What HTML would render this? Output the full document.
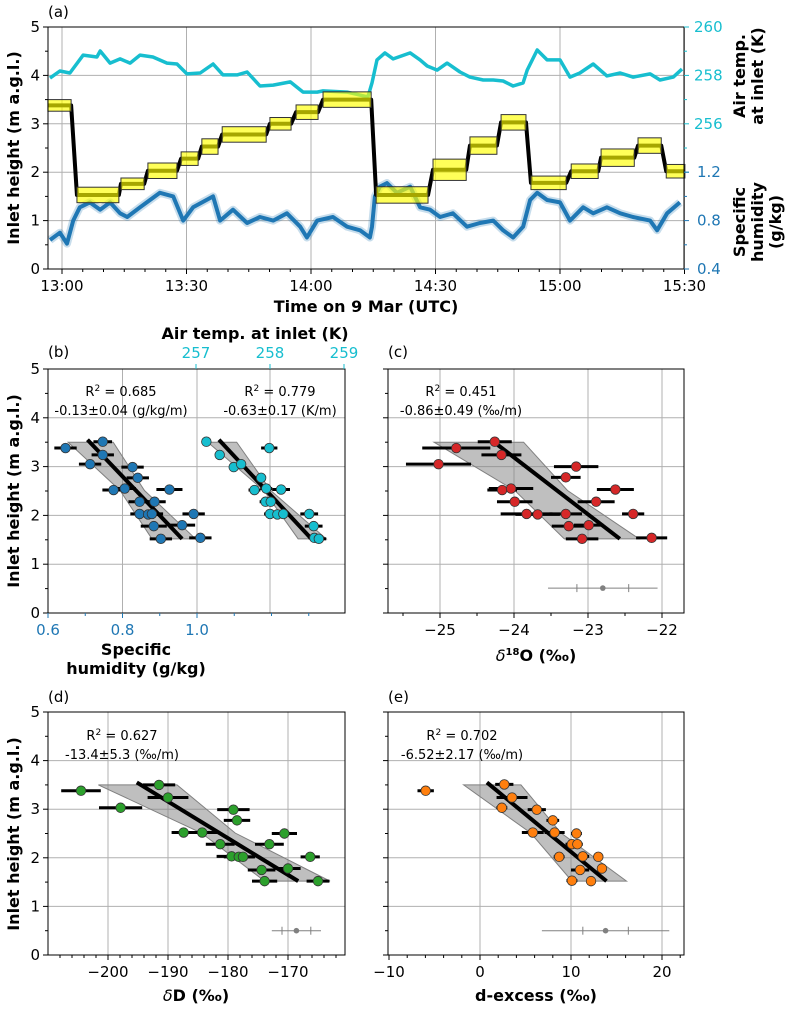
<!DOCTYPE html>
<html><head><meta charset="utf-8"><style>
body{margin:0;background:#fff}
svg{display:block;font-family:"DejaVu Sans","Liberation Sans",sans-serif}
.tk{font-size:15px}
.lb{font-size:16px;font-weight:bold}
.an{font-size:13px}
</style></head><body>
<svg id="fig" width="789" height="1009" viewBox="0 0 789 1009"></svg>
<script>
// ---------- Panel (a) data ----------
const tempTimes=[-2.9,-0.5,1.9,5.1,8.4,9.2,11.6,14.0,16.4,18.8,21.9,25.3,27.7,30.1,33.3,36.4,38.8,42.2,44.6,47.7,50.9,55.0,58.1,61.5,62.9,68.7,73.7,74.7,75.9,77.8,79.8,83.9,86.3,88.0,90.4,92.8,95.9,98.3,101.5,103.9,106.3,108.7,111.1,112.1,114.5,116.9,120.0,122.4,124.8,128.0,131.3,134.5,137.6,141.7,144.1,147.3,149.4];
const tempVals=[257.89,258.18,258.10,258.84,258.76,259.01,258.51,258.68,258.51,258.84,258.76,258.51,258.47,258.06,258.10,258.47,258.02,258.02,258.14,257.56,257.60,257.73,257.31,257.31,257.36,257.31,257.11,257.69,258.64,258.93,258.68,258.93,258.64,258.39,258.22,258.51,258.14,257.93,257.81,257.81,257.77,257.56,257.69,258.22,259.05,258.64,258.64,257.93,258.10,258.47,257.98,258.10,257.93,258.06,257.81,257.93,258.26];
const humTimes=[-2.9,-0.5,1.2,2.7,4.3,6.7,9.2,11.6,14.0,15.7,18.8,21.2,23.6,26.8,29.2,31.6,36.4,38.1,41.2,44.6,47.7,50.9,54.2,57.4,59.0,61.5,65.3,68.7,71.8,74.2,74.7,75.4,76.6,78.3,80.7,83.9,86.3,88.7,91.1,94.2,97.6,100.7,103.9,106.3,108.7,111.1,112.8,114.5,116.9,120.0,122.4,125.6,128.0,131.3,134.5,137.6,141.7,143.4,145.8,148.9];
const humVals=[0.64,0.70,0.61,0.80,0.91,0.95,0.89,0.95,0.86,0.83,0.91,0.97,1.03,1.00,0.80,0.91,1.00,0.80,0.89,0.78,0.83,0.80,0.86,0.75,0.66,0.80,0.83,0.75,0.72,0.66,0.75,1.00,1.08,1.11,1.03,1.08,0.91,0.89,0.83,0.86,0.75,0.78,0.80,0.72,0.66,0.75,0.97,1.03,0.97,0.95,0.80,0.91,0.86,0.91,0.86,0.83,0.80,0.72,0.86,0.95];
const boxStart=[-3.4,3.6,14.2,20.7,28.7,33.7,38.6,50.1,56.4,62.9,75.7,89.4,98.3,105.8,113.0,122.7,129.9,138.8,145.6];
const boxEnd=[2.2,13.7,19.8,27.7,32.8,37.6,49.2,55.2,61.7,74.5,88.2,97.4,104.8,111.8,121.5,129.2,137.9,144.4,150.1];
const boxHeight=[3.38,1.53,1.76,2.03,2.28,2.53,2.78,3.0,3.24,3.5,1.53,2.05,2.55,3.03,1.78,2.02,2.3,2.55,2.02];
const boxHalf=[0.12,0.16,0.12,0.16,0.14,0.16,0.16,0.13,0.15,0.16,0.17,0.22,0.18,0.16,0.14,0.15,0.18,0.16,0.14];
const timeTicks=[0,30,60,90,120,150];
const timeLabels=["13:00","13:30","14:00","14:30","15:00","15:30"];

// ---------- Scatter panel data ----------
const bHeights=[3.38,3.51,3.24,3.05,2.99,2.77,2.52,2.55,2.53,2.28,2.28,2.03,2.02,2.03,2.03,1.78,1.80,1.52,1.54];
const bHum=[0.647,0.747,0.747,0.713,0.827,0.841,0.776,0.806,0.926,0.846,0.886,0.846,0.869,0.879,0.991,0.884,0.960,0.903,1.009];
const bHumErr=[0.03,0.025,0.03,0.03,0.03,0.03,0.03,0.03,0.035,0.03,0.03,0.025,0.03,0.03,0.03,0.035,0.035,0.03,0.03];
const bTHeights=[3.51,3.24,2.99,3.05,3.38,2.77,2.52,2.55,2.53,2.28,2.28,2.03,2.02,2.03,2.03,1.78,1.54,1.52];
const bTemp=[257.14,257.32,257.51,257.61,257.99,257.88,257.79,257.95,258.15,257.94,258.01,258.0,258.1,258.18,258.53,258.59,258.6,258.66];
const bTempErr=[0.06,0.06,0.06,0.06,0.11,0.06,0.08,0.08,0.12,0.08,0.06,0.08,0.08,0.08,0.12,0.12,0.08,0.1];
const cHeights=[3.05,3.38,3.51,3.24,3.0,2.78,2.52,2.55,2.53,2.28,2.28,2.03,2.02,2.03,2.03,1.78,1.80,1.52,1.54];
const cVals=[-25.02,-24.78,-24.26,-24.17,-23.16,-23.3,-24.16,-24.04,-22.63,-23.99,-22.89,-23.83,-23.68,-23.3,-22.39,-23.26,-22.99,-23.08,-22.14];
const cErr=[0.44,0.46,0.23,0.27,0.3,0.2,0.2,0.3,0.25,0.24,0.25,0.35,0.3,0.22,0.15,0.23,0.2,0.22,0.21];
const dHeights=[3.38,3.5,3.24,3.03,2.99,2.77,2.52,2.52,2.5,2.28,2.28,2.03,2.02,2.02,2.02,1.75,1.78,1.52,1.52];
const dVals=[-204.5,-191.5,-190,-197.9,-179.1,-178.5,-187.4,-184.3,-170.6,-181.3,-173.1,-179.4,-178.2,-177.5,-166.3,-174.4,-170,-173.9,-165];
const dErr=[3.3,2.7,3.4,3.6,2.7,2.2,2,2.5,2.1,2.4,2.4,2.5,2.5,2,1.6,2.3,2.1,2.1,1.9];
const eHeights=[3.38,3.51,3.24,3.03,2.99,2.77,2.52,2.52,2.5,2.28,2.28,2.02,2.03,2.02,1.75,1.78,1.53,1.52];
const eVals=[-5.97,2.67,3.52,2.4,6.24,8.0,5.8,8.2,10.6,10.1,10.7,8.7,11.3,13.0,11.0,13.4,10.1,12.2];
const eErr=[0.9,1.0,1.7,0.6,1.0,0.7,1.2,1.1,0.6,0.7,0.6,0.6,0.7,0.5,1.0,0.5,0.6,0.5];
const bHumFit=[0.706,0.96], bHumBandTop=[0.654,0.775], bHumBandBot=[0.879,0.996];
const bTFit=[257.31,258.56], bTBandTop=[257.16,257.55], bTBandBot=[258.38,258.76];
const cFit=[-24.31,-22.57], cBandTop=[-25.08,-23.87], cBandBot=[-23.32,-22.31];
const dFit=[-195.2,-168.3], dBandTop=[-201.6,-188.5], dBandBot=[-173.9,-163.0];
const eFit=[0.76,13.9], eBandTop=[-1.8,4.5], eBandBot=[10.1,16.1];
const cRef=[-22.8,0.35,0.74], dRef=[-168.6,2.4,4.1], eRef=[13.8,2.5,7.0];

const NS="http://www.w3.org/2000/svg";
const svg=document.getElementById('fig');
function mk(tag,attrs,parent,text){const e=document.createElementNS(NS,tag);for(const k in attrs)e.setAttribute(k,attrs[k]);if(text!==undefined)e.textContent=text;(parent||svg).appendChild(e);return e;}
const BLUE="#1f77b4",CYAN="#17becf",GRID="#b0b0b0";

// ---------- Panel (a) ----------
const aX=t=>62+t*124.5/30, aYL=h=>269-h*48.4, aYT=T=>27+(260-T)*24.2, aYQ=q=>269-(q-0.4)*121;
const ga=mk('g',{});


timeTicks.forEach(t=>mk('line',{x1:aX(t),x2:aX(t),y1:27,y2:269,stroke:GRID,'stroke-width':1},ga));
[1,2,3,4].forEach(h=>mk('line',{x1:48,x2:684,y1:aYL(h),y2:aYL(h),stroke:GRID,'stroke-width':1},ga));
function poly(xs,ys,fx,fy){return xs.map((x,i)=>fx(x).toFixed(1)+','+fy(ys[i]).toFixed(1)).join(' ');}
const tl=mk('polyline',{points:poly(tempTimes,tempVals,aX,aYT),fill:'none',stroke:CYAN,'stroke-width':3.5,'stroke-linejoin':'round'},ga);


mk('polyline',{points:poly(humTimes,humVals,aX,aYQ),fill:'none',stroke:BLUE,'stroke-opacity':0.25,'stroke-width':8,'stroke-linejoin':'round'},ga);
const hl=mk('polyline',{points:poly(humTimes,humVals,aX,aYQ),fill:'none',stroke:BLUE,'stroke-width':4,'stroke-linejoin':'round'},ga);


let hp=[];
boxStart.forEach((s,i)=>{hp.push(aX(s)+','+aYL(boxHeight[i]));hp.push(aX(boxEnd[i])+','+aYL(boxHeight[i]));});
const il=mk('polyline',{points:hp.join(' '),fill:'none',stroke:'#000','stroke-width':4,'stroke-linejoin':'round'},ga);


boxStart.forEach((s,i)=>{
  const r=mk('rect',{x:aX(s),y:aYL(boxHeight[i]+boxHalf[i]),width:aX(boxEnd[i])-aX(s),height:aYL(boxHeight[i]-boxHalf[i])-aYL(boxHeight[i]+boxHalf[i]),fill:'#ffff00','fill-opacity':0.65,stroke:'#333','stroke-width':1},ga);
  
  
});
mk('rect',{x:48,y:27,width:636,height:242,fill:'none',stroke:'#000','stroke-width':1},ga);
for(let t=0;t<=150;t+=5){mk('line',{x1:aX(t),x2:aX(t),y1:269,y2:t%30==0?274:272,stroke:'#000'},ga);}
timeTicks.forEach((t,i)=>{const e=mk('text',{x:aX(t),y:291,'text-anchor':'middle',class:'tk'},ga,timeLabels[i]);});
for(let h=0;h<=5;h+=0.5){mk('line',{x1:48,x2:h%1==0?43:45,y1:aYL(h),y2:aYL(h),stroke:'#000'},ga);}
for(let h=0;h<=5;h++)mk('text',{x:40,y:aYL(h)+5,'text-anchor':'end',class:'tk'},ga,String(h));
for(let T=254;T<=260;T+=1){mk('line',{x1:684,x2:T%2==0?689:687,y1:aYT(T),y2:aYT(T),stroke:CYAN},ga);}
[260,258,256].forEach(T=>mk('text',{x:694,y:aYT(T)+5,fill:CYAN,class:'tk'},ga,String(T)));
for(let q=0.4;q<=1.25;q+=0.2){mk('line',{x1:684,x2:Math.round(q*10)%4==0?689:687,y1:aYQ(q),y2:aYQ(q),stroke:BLUE},ga);}
[1.2,0.8,0.4].forEach(q=>mk('text',{x:697,y:aYQ(q)+5,fill:BLUE,class:'tk'},ga,q.toFixed(1)));
mk('text',{x:366,y:312,'text-anchor':'middle',class:'lb'},ga,'Time on 9 Mar (UTC)');
mk('text',{x:48,y:17,class:'tk'},ga,'(a)');
mk('text',{transform:'translate(19,148) rotate(-90)','text-anchor':'middle',class:'lb'},ga,'Inlet height (m a.g.l.)');
mk('text',{transform:'translate(745,76) rotate(-90)','text-anchor':'middle',class:'lb'},ga,'Air temp.');
mk('text',{transform:'translate(763,76) rotate(-90)','text-anchor':'middle',class:'lb'},ga,'at inlet (K)');
mk('text',{transform:'translate(745,222) rotate(-90)','text-anchor':'middle',class:'lb'},ga,'Specific');
mk('text',{transform:'translate(763,222) rotate(-90)','text-anchor':'middle',class:'lb'},ga,'humidity');
mk('text',{transform:'translate(781,222) rotate(-90)','text-anchor':'middle',class:'lb'},ga,'(g/kg)');

function frame(g,x0,x1,y0,y1,Y,gridXs,showYLabels){
  gridXs.forEach(x=>mk('line',{x1:x,x2:x,y1:y0,y2:y1,stroke:GRID},g));
  [1,2,3,4].forEach(h=>mk('line',{x1:x0,x2:x1,y1:Y(h),y2:Y(h),stroke:GRID},g));
  for(let h=0;h<=5;h+=0.5)mk('line',{x1:x0,x2:h%1==0?x0-5:x0-3,y1:Y(h),y2:Y(h),stroke:'#000'},g);
  if(showYLabels)for(let h=0;h<=5;h++)mk('text',{x:x0-8,y:Y(h)+5,'text-anchor':'end',class:'tk'},g,String(h));
}
function series(g,X,Y,vals,hs,errs,color,name,fit,bt,bb){
  const pts=[[X(bt[0]),Y(3.5)],[X(bt[1]),Y(3.5)],[X((bt[1]+bb[1])/2-(bb[1]-bt[1])*0.12),Y(2.51)],[X(bb[1]),Y(1.52)],[X(bb[0]),Y(1.52)],[X((bt[0]+bb[0])/2+(bb[0]-bt[0])*0.12),Y(2.51)]];
  const band=mk('polygon',{points:pts.map(p=>p.join(',')).join(' '),fill:'#808080','fill-opacity':0.5,stroke:'#808080'},g);
  
  
  vals.forEach((v,i)=>{const e=mk('line',{x1:X(v-errs[i]),x2:X(v+errs[i]),y1:Y(hs[i]),y2:Y(hs[i]),stroke:'#000','stroke-width':3},g);
    
    });
  const f=mk('line',{x1:X(fit[0]),y1:Y(3.55),x2:X(fit[1]),y2:Y(1.52),stroke:'#000','stroke-width':4},g);
  
  
  vals.forEach((v,i)=>{const c=mk('circle',{cx:X(v),cy:Y(hs[i]),r:4.8,fill:color,stroke:'#333','stroke-width':0.8},g);
    
    });
}
function refbar(g,X,y,r){
  mk('line',{x1:X(r[0]-r[2]),x2:X(r[0]+r[2]),y1:y,y2:y,stroke:'#808080'},g);
  [-r[1],r[1]].forEach(d=>mk('line',{x1:X(r[0]+d),x2:X(r[0]+d),y1:y-4,y2:y+4,stroke:'#808080'},g));
  mk('circle',{cx:X(r[0]),cy:y,r:2.8,fill:'#808080'},g);
}
function annot(g,cx,y,r2,slope){
  const t=mk('text',{x:cx,y:y,'text-anchor':'middle',class:'an'},g);
  mk('tspan',{},t,'R');mk('tspan',{dy:-5,'font-size':9},t,'2');mk('tspan',{dy:5},t,' = '+r2);
  mk('text',{x:cx,y:y+19,'text-anchor':'middle',class:'an'},g,slope);
}

// ---------- Panel (b) ----------
const bY=h=>613-h*48.8, bXq=q=>48+(q-0.6)*372.5, bXT=T=>196+(T-257)*74;
const gb=mk('g',{});


frame(gb,48,345,369,613,bY,[bXq(0.8),bXq(1.0),bXT(258)],true);
series(gb,bXq,bY,bHum,bHeights,bHumErr,BLUE,'humidity',bHumFit,bHumBandTop,bHumBandBot);
series(gb,bXT,bY,bTemp,bTHeights,bTempErr,CYAN,'temperature',bTFit,bTBandTop,bTBandBot);
mk('rect',{x:48,y:369,width:297,height:244,fill:'none',stroke:'#000'},gb);
[0.6,0.8,1.0].forEach(q=>{mk('line',{x1:bXq(q),x2:bXq(q),y1:613,y2:618,stroke:BLUE},gb);mk('text',{x:bXq(q),y:635,'text-anchor':'middle',fill:BLUE,class:'tk'},gb,q.toFixed(1));});
[0.7,0.9,1.1,1.2,1.3].forEach(q=>mk('line',{x1:bXq(q),x2:bXq(q),y1:613,y2:616,stroke:BLUE},gb));
[257,258,259].forEach(T=>{mk('line',{x1:bXT(T),x2:bXT(T),y1:369,y2:364,stroke:CYAN},gb);mk('text',{x:bXT(T),y:358,'text-anchor':'middle',fill:CYAN,class:'tk'},gb,String(T));});
mk('text',{x:255,y:339,'text-anchor':'middle',class:'lb'},gb,'Air temp. at inlet (K)');
mk('text',{x:136,y:655,'text-anchor':'middle',class:'lb'},gb,'Specific');
mk('text',{x:136,y:674,'text-anchor':'middle',class:'lb'},gb,'humidity (g/kg)');
mk('text',{x:48,y:357,class:'tk'},gb,'(b)');
annot(gb,121,396,'0.685','-0.13±0.04 (g/kg/m)');
annot(gb,280,396,'0.779','-0.63±0.17 (K/m)');
mk('text',{transform:'translate(19,491) rotate(-90)','text-anchor':'middle',class:'lb'},gb,'Inlet height (m a.g.l.)');

// ---------- Panel (c) ----------
const cX=v=>440+(v+25)*74;
const gc=mk('g',{});


frame(gc,388,684,369,613,bY,[-25,-24,-23,-22].map(cX),false);
series(gc,cX,bY,cVals,cHeights,cErr,'#d62728','d18o',cFit,cBandTop,cBandBot);
refbar(gc,cX,bY(0.51),cRef);
mk('rect',{x:388,y:369,width:296,height:244,fill:'none',stroke:'#000'},gc);
[-25,-24,-23,-22].forEach(v=>{mk('line',{x1:cX(v),x2:cX(v),y1:613,y2:618,stroke:'#000'},gc);mk('text',{x:cX(v),y:635,'text-anchor':'middle',class:'tk'},gc,'\u2212'+Math.abs(v));});
for(let v=-25.5;v<=-21.8;v+=0.5)mk('line',{x1:cX(v),x2:cX(v),y1:613,y2:616,stroke:'#000'},gc);
const ct=mk('text',{x:536,y:661,'text-anchor':'middle',class:'lb'},gc);
mk('tspan',{'font-style':'italic','font-weight':'normal'},ct,'δ');mk('tspan',{dy:-6,'font-size':10},ct,'18');mk('tspan',{dy:6},ct,'O (‰)');
mk('text',{x:388,y:357,class:'tk'},gc,'(c)');
annot(gc,461,396,'0.451','-0.86±0.49 (‰/m)');

// ---------- Panel (d) ----------
const dY=h=>955-h*48.6, dX=v=>108+(v+200)*6;
const gd=mk('g',{});


frame(gd,48,345,712,955,dY,[-200,-190,-180,-170].map(dX),true);
series(gd,dX,dY,dVals,dHeights,dErr,'#2ca02c','dD',dFit,dBandTop,dBandBot);
refbar(gd,dX,dY(0.5),dRef);
mk('rect',{x:48,y:712,width:297,height:243,fill:'none',stroke:'#000'},gd);
[-200,-190,-180,-170].forEach(v=>{mk('line',{x1:dX(v),x2:dX(v),y1:955,y2:960,stroke:'#000'},gd);mk('text',{x:dX(v),y:977,'text-anchor':'middle',class:'tk'},gd,'\u2212'+Math.abs(v));});
for(let v=-208;v<=-162;v+=2)mk('line',{x1:dX(v),x2:dX(v),y1:955,y2:958,stroke:'#000'},gd);
const dt=mk('text',{x:196,y:1001,'text-anchor':'middle',class:'lb'},gd);
mk('tspan',{'font-style':'italic','font-weight':'normal'},dt,'δ');mk('tspan',{},dt,'D (‰)');
mk('text',{x:48,y:702,class:'tk'},gd,'(d)');
annot(gd,122,740,'0.627','-13.4±5.3 (‰/m)');
mk('text',{transform:'translate(19,834) rotate(-90)','text-anchor':'middle',class:'lb'},gd,'Inlet height (m a.g.l.)');

// ---------- Panel (e) ----------
const eX=v=>480+v*9.1;
const ge=mk('g',{});


frame(ge,388,684,712,955,dY,[0,10,20].map(eX),false);
series(ge,eX,dY,eVals,eHeights,eErr,'#ff7f0e','dexcess',eFit,eBandTop,eBandBot);
refbar(ge,eX,dY(0.5),eRef);
mk('rect',{x:388,y:712,width:296,height:243,fill:'none',stroke:'#000'},ge);
[-10,0,10,20].forEach(v=>{mk('line',{x1:eX(v),x2:eX(v),y1:955,y2:960,stroke:'#000'},ge);mk('text',{x:eX(v),y:977,'text-anchor':'middle',class:'tk'},ge,(v<0?'\u2212':'')+Math.abs(v));});
for(let v=-10;v<=22;v+=2)mk('line',{x1:eX(v),x2:eX(v),y1:955,y2:958,stroke:'#000'},ge);
mk('text',{x:536,y:1001,'text-anchor':'middle',class:'lb'},ge,'d-excess (‰)');
mk('text',{x:388,y:702,class:'tk'},ge,'(e)');
annot(ge,462,740,'0.702','-6.52±2.17 (‰/m)');
</script>
</body></html>
